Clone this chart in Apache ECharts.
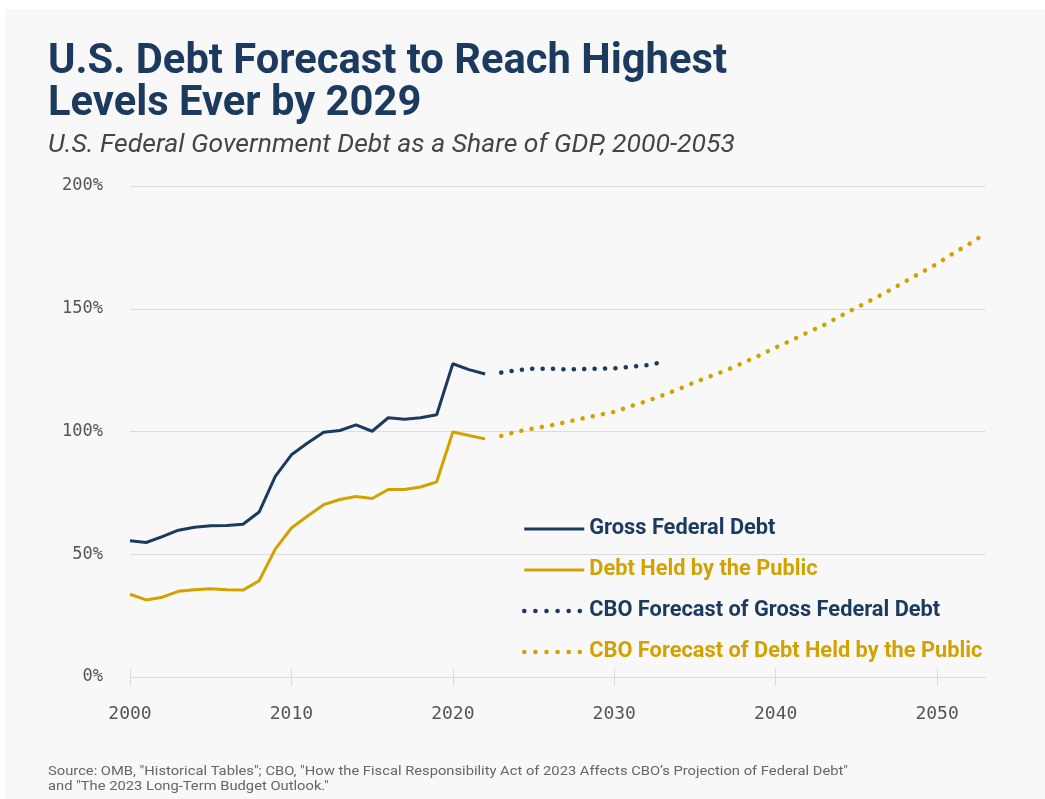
<!DOCTYPE html>
<html><head><meta charset="utf-8">
<script src="https://cdn.jsdelivr.net/npm/echarts@6/dist/echarts.min.js"></script>
<style>html,body{margin:0;padding:0;background:#fff}#c{width:1045px;height:799px}</style>
</head><body><div id="c"></div>
<script>
// ---- data ----
const histYears = [2000,2001,2002,2003,2004,2005,2006,2007,2008,2009,2010,2011,2012,2013,2014,2015,2016,2017,2018,2019,2020,2021,2022];
const grossDebt = [55.5,54.8,57.2,59.8,61.0,61.6,61.7,62.2,67.2,81.7,90.5,95.3,99.7,100.4,102.7,100.1,105.6,105.0,105.6,106.8,127.6,125.2,123.4];
const publicDebt = [33.7,31.4,32.5,34.9,35.5,35.9,35.5,35.4,39.2,52.1,60.7,65.6,70.2,72.3,73.5,72.7,76.4,76.4,77.4,79.5,99.8,98.4,97.0];
const grossForecastYears = [2023,2024,2025,2026,2027,2028,2029,2030,2031,2032,2033];
const grossForecast = [124.0,125.0,125.6,125.6,125.3,125.4,125.6,125.7,126.3,127.0,128.3];
const publicForecastYears = [2023,2024,2025,2026,2027,2028,2029,2030,2031,2032,2033,2034,2035,2036,2037,2038,2039,2040,2041,2042,2043,2044,2045,2046,2047,2048,2049,2050,2051,2052,2053];
const publicForecast = [98.2,100.0,101.3,102.4,103.8,105.3,106.7,108.0,110.3,112.3,114.8,117.3,120.1,122.6,125.1,128.0,131.0,134.2,137.2,140.4,143.4,147.0,150.4,153.8,157.3,161.0,164.7,168.3,172.6,176.4,180.7];
const xTickValues = [2000,2010,2020,2030,2040,2050];
const seriesNames = ['Gross Federal Debt','Debt Held by the Public','CBO Forecast of Gross Federal Debt','CBO Forecast of Debt Held by the Public'];
const titleLines = ['U.S. Debt Forecast to Reach Highest','Levels Ever by 2029'];
const subtitleText = 'U.S. Federal Government Debt as a Share of GDP, 2000-2053';
const sourceLines = ['Source: OMB, "Historical Tables"; CBO, "How the Fiscal Responsibility Act of 2023 Affects CBO\u2019s Projection of Federal Debt"', 'and "The 2023 Long-Term Budget Outlook."'];

// ---- styles ----
const NAVY = '#1b3a5e';
const GOLD = '#d3a200';
const GRIDC = '#dcdcdc';
const MONO = 'DejaVu Sans Mono';

function pairs(xs, ys){ return xs.map((x,i)=>[x, ys[i]]); }
const ctx = document.createElement('canvas').getContext('2d');
function fitScale(text, font, w){ ctx.font = font; return w / ctx.measureText(text).width; }

const titleFont = 'bold 43px Roboto';
const titleScale = fitScale(titleLines[0], titleFont, 679);
const subFont = 'italic 25px Roboto';
const subScale = fitScale(subtitleText, subFont, 687);
const srcFont = '13px Roboto';
const srcScale = fitScale(sourceLines[0], srcFont, 800);

const chart = echarts.init(document.getElementById('c'), null, {renderer:'canvas'});
const dotted = {width: 4.5, type: [0.1, 10.3], cap: 'round'};
const legendSolid = {width: 3, type: 'solid'};
const legendDotted = {width: 4.5, type: [0.1, 11], cap: 'round'};
const xBase = {
  type:'value', min:2000, max:2053, interval:10, position:'bottom',
  splitLine:{show:false}
};
chart.setOption({
  backgroundColor:'#ffffff',
  animation:false,
  grid:{left:130, right:59.5, top:186, bottom:122, containLabel:false},
  graphic:[
    {type:'rect', z:-100, silent:true, shape:{x:5,y:9,width:1040,height:790}, style:{fill:'#f8f8f8'}},
    {type:'text', x:48, y:62, scaleX:titleScale, style:{text:titleLines[0], font:titleFont, fill:NAVY, verticalAlign:'middle'}},
    {type:'text', x:48, y:104, scaleX:titleScale, style:{text:titleLines[1], font:titleFont, fill:NAVY, verticalAlign:'middle'}},
    {type:'text', x:48, y:146, scaleX:subScale, style:{text:subtitleText, font:subFont, fill:'#454545', verticalAlign:'middle'}},
    {type:'text', x:48, y:772, scaleX:srcScale, style:{text:sourceLines[0], font:srcFont, fill:'#666', verticalAlign:'middle'}},
    {type:'text', x:48, y:787, scaleX:srcScale, style:{text:sourceLines[1], font:srcFont, fill:'#666', verticalAlign:'middle'}}
  ],
  legend:{
    orient:'vertical', left:522, top:517, padding:0, itemWidth:60, itemHeight:14, itemGap:17,
    selectedMode:false,
    itemStyle:{opacity:0},
    textStyle:{fontFamily:'Roboto', fontWeight:'bold', fontSize:21.8, lineHeight:24, padding:[0,0,0,0]},
    data:[
      {name:seriesNames[0], textStyle:{color:NAVY}, lineStyle:Object.assign({color:NAVY}, legendSolid), itemStyle:{opacity:0}},
      {name:seriesNames[1], textStyle:{color:GOLD}, lineStyle:Object.assign({color:GOLD}, legendSolid), itemStyle:{opacity:0}},
      {name:seriesNames[2], textStyle:{color:NAVY}, lineStyle:Object.assign({color:NAVY}, legendDotted), itemStyle:{opacity:0}},
      {name:seriesNames[3], textStyle:{color:GOLD}, lineStyle:Object.assign({color:GOLD}, legendDotted), itemStyle:{opacity:0}}
    ]
  },
  xAxis:[
    Object.assign({}, xBase, {
      axisLine:{show:true, lineStyle:{color:GRIDC, width:1}},
      axisTick:{show:true, length:9, lineStyle:{color:GRIDC}, customValues:xTickValues},
      axisLabel:{show:true, margin:28, color:'#555', fontFamily:MONO, fontSize:18, customValues:xTickValues, formatter:(v)=>String(v)}
    }),
    Object.assign({}, xBase, {
      axisLine:{show:false},
      axisTick:{show:true, inside:true, length:9, lineStyle:{color:GRIDC}, customValues:xTickValues},
      axisLabel:{show:false}
    })
  ],
  yAxis:{
    type:'value', min:0, max:200, interval:50,
    axisLine:{show:false}, axisTick:{show:false},
    splitLine:{lineStyle:{color:GRIDC, width:1}},
    axisLabel:{formatter:'{value}%', margin:27, color:'#555', fontFamily:MONO, fontSize:17}
  },
  series:[
    {name:seriesNames[0], type:'line', symbol:'none', data:pairs(histYears, grossDebt), lineStyle:{color:NAVY, width:3}, itemStyle:{color:NAVY}, z:4},
    {name:seriesNames[1], type:'line', symbol:'none', data:pairs(histYears, publicDebt), lineStyle:{color:GOLD, width:3}, itemStyle:{color:GOLD}, z:3},
    {name:seriesNames[2], type:'line', symbol:'none', data:pairs(grossForecastYears, grossForecast), lineStyle:Object.assign({color:NAVY}, dotted), itemStyle:{color:NAVY}, z:4},
    {name:seriesNames[3], type:'line', symbol:'none', data:pairs(publicForecastYears, publicForecast), lineStyle:Object.assign({color:GOLD}, dotted), itemStyle:{color:GOLD}, z:3}
  ]
});
</script></body></html>
